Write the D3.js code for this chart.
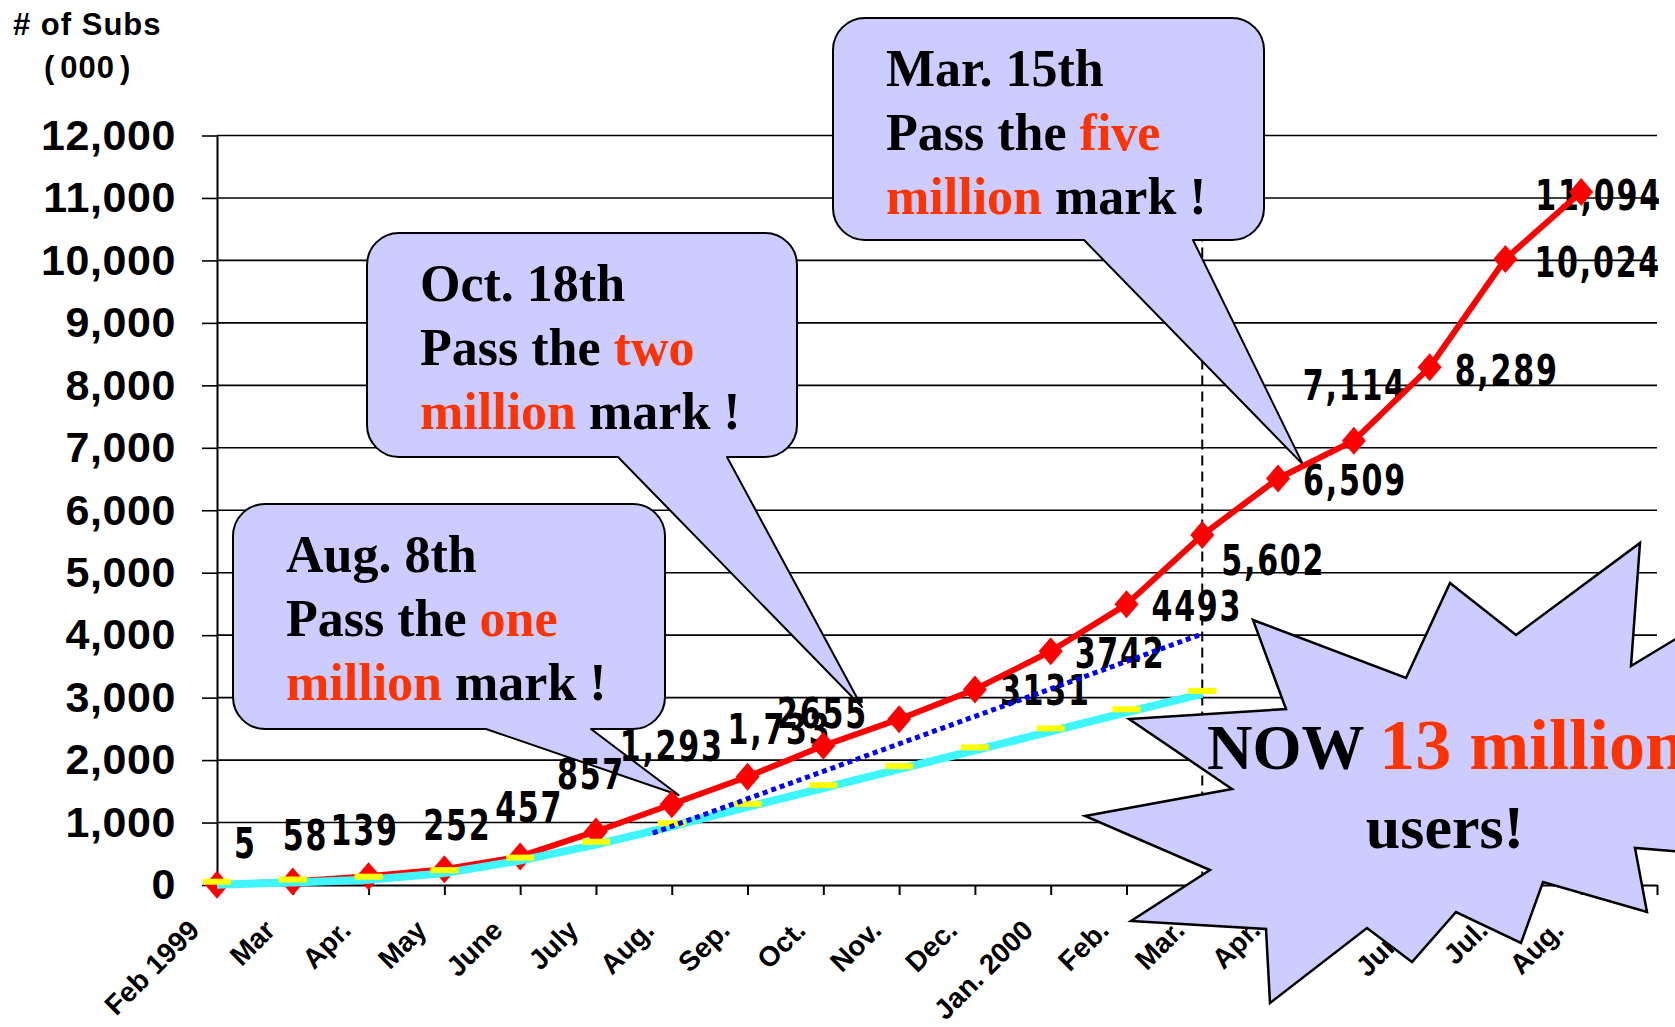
<!DOCTYPE html>
<html lang="en">
<head>
<meta charset="utf-8">
<title>i-mode subscribers</title>
<script src="https://d3js.org/d3.v7.min.js"></script>
<style>
  body { margin: 0; background: #fff; }
  svg { display: block; }
</style>
</head>
<body>
<script>
// month categories on the x axis (one spare tick after the last)
var months = ["Feb 1999", "Mar", "Apr.", "May", "June", "July", "Aug.", "Sep.", "Oct.", "Nov.",
  "Dec.", "Jan. 2000", "Feb.", "Mar.", "Apr.", "May", "June", "Jul.", "Aug."];

// actual subscribers (000)
var subs = [5, 58, 139, 252, 457, 857, 1293, 1733, 2230, 2655, 3131, 3742, 4493, 5602, 6509, 7114, 8289, 10024, 11094];
var subsLabels = ["5", "58", "139", "252", "457", "857", "1,293", "1,733", "", "2655", "3131", "3742", "4493",
  "5,602", "6,509", "7,114", "8,289", "10,024", "11,094"];

// plan line (cyan with yellow markers), Feb 1999 - Mar 2000
var plan = [5, 40, 85, 190, 390, 645, 940, 1250, 1550, 1855, 2155, 2460, 2765, 3060];

// dotted trend line
var trend = [{m: 5.75, v: 830}, {m: 13, v: 4020}];

var yTicks = d3.range(0, 12001, 1000);
var markMonth = 13; // dashed line at Mar. 2000

// label placement (px from its point): where the labels sat on the slide
var labelNudge = [[17, -27], [-10, -31], [-38, -31], [-21, -29], [-25, -34], [-39, -42], [-52, -43], [-20, -33],
  [0, 0], [-122, 9], [25, 16], [24, 17], [25, 17], [19, 40], [25, 17], [-51, -41], [25, 18], [29, 18], [-46, 18]];

var notes = [
  {lines: [[["Aug. 8th", 0]], [["Pass the ", 0], ["one", 1]], [["million", 1], [" mark !", 0]]],
   box: [233, 504, 665, 729], base: [486, 591], tip: {m: 6.09, v: 1440}},
  {lines: [[["Oct. 18th", 0]], [["Pass the ", 0], ["two", 1]], [["million", 1], [" mark !", 0]]],
   box: [367, 233, 797, 457], base: [618, 727], tip: {m: 8.51, v: 2850}},
  {lines: [[["Mar. 15th", 0]], [["Pass the ", 0], ["five", 1]], [["million", 1], [" mark !", 0]]],
   box: [833, 18, 1264, 240], base: [1084, 1193], tip: {m: 14.33, v: 6730}}
];

var burst = [[1253, 620], [1406, 678], [1450, 583], [1516, 635], [1640, 543], [1631, 666], [1740, 600],
  [1700, 740], [1760, 858], [1635, 848], [1647, 912], [1543, 882], [1521, 943], [1456, 912], [1412, 962],
  [1367, 928], [1270, 1003], [1266, 929], [1131, 921], [1210, 870], [1085, 816], [1232, 789], [1129, 719],
  [1286, 709]];

var W = 1675, H = 1027;
var hot = "#ff3300";
var lilac = "#ccccff";

var svg = d3.select("body").append("svg")
  .attr("width", W)
  .attr("height", H)
  .style("background", "#fff");

var x = d3.scaleLinear().domain([0, 19]).range([217, 1657]);
var y = d3.scaleLinear().domain([0, 12000]).range([885, 135.5]);

// grid lines
svg.append("g").selectAll("line")
  .data(yTicks.filter(d => d > 0))
  .enter().append("line")
  .attr("x1", x(0)).attr("x2", x(19))
  .attr("y1", d => y(d)).attr("y2", d => y(d))
  .attr("stroke", "#000")
  .attr("stroke-width", 1.6);

// y axis
var yAxis = svg.append("g")
  .attr("transform", `translate(${x(0)},0)`)
  .call(d3.axisLeft(y).tickValues(yTicks).tickSize(15).tickSizeOuter(0).tickPadding(26).tickFormat(d3.format(",")));
yAxis.select(".domain").attr("stroke", "#000").attr("stroke-width", 2);
yAxis.selectAll(".tick line").attr("stroke", "#000").attr("stroke-width", 1.6);
yAxis.selectAll(".tick text")
  .attr("fill", "#000")
  .attr("font-family", "'Liberation Sans', Arial, sans-serif")
  .attr("font-weight", "bold")
  .attr("font-size", 43)
  .attr("letter-spacing", 0.6);

// x axis
var xAxis = svg.append("g")
  .attr("transform", `translate(0,${y(0)})`)
  .call(d3.axisBottom(x).tickValues(d3.range(0, 20)).tickSize(10).tickSizeOuter(0).tickFormat(""));
xAxis.select(".domain").attr("stroke", "#000").attr("stroke-width", 2);
xAxis.selectAll(".tick line").attr("stroke", "#000").attr("stroke-width", 2);

svg.append("g").selectAll("text")
  .data(months)
  .enter().append("text")
  .attr("transform", (d, i) => `translate(${x(i) - 16},${y(0) + 47}) rotate(-45)`)
  .attr("text-anchor", "end")
  .attr("font-family", "'Liberation Sans', Arial, sans-serif")
  .attr("font-weight", "bold")
  .attr("font-size", 28)
  .text(d => d);

// axis title
var title = svg.append("g")
  .attr("font-family", "'Liberation Sans', Arial, sans-serif")
  .attr("font-weight", "bold")
  .attr("font-size", 31)
  .attr("letter-spacing", 1);
title.append("text").attr("x", 13).attr("y", 35).text("# of Subs");
var unit = title.append("text").attr("x", 44).attr("y", 78);
unit.append("tspan").text("(");
unit.append("tspan").attr("dx", 5).text("000");
unit.append("tspan").attr("dx", 5).text(")");

// dashed marker
svg.append("line")
  .attr("x1", x(markMonth)).attr("x2", x(markMonth))
  .attr("y1", y(12000)).attr("y2", y(0))
  .attr("stroke", "#000")
  .attr("stroke-width", 2)
  .attr("stroke-dasharray", "10,6");

// callouts
function bubble(n) {
  var x0 = n.box[0], y0 = n.box[1], x1 = n.box[2], y1 = n.box[3], r = 32;
  var tx = x(n.tip.m), ty = y(n.tip.v);
  return `M${x0 + r},${y0}H${x1 - r}A${r},${r} 0 0 1 ${x1},${y0 + r}V${y1 - r}A${r},${r} 0 0 1 ${x1 - r},${y1}` +
    `H${n.base[1]}L${tx},${ty}L${n.base[0]},${y1}H${x0 + r}A${r},${r} 0 0 1 ${x0},${y1 - r}V${y0 + r}` +
    `A${r},${r} 0 0 1 ${x0 + r},${y0}Z`;
}

var callouts = svg.append("g").selectAll("g")
  .data(notes)
  .enter().append("g");

callouts.append("path")
  .attr("d", bubble)
  .attr("fill", lilac)
  .attr("stroke", "#000")
  .attr("stroke-width", 2)
  .attr("stroke-linejoin", "round");

callouts.each(function(n) {
  var g = d3.select(this);
  n.lines.forEach(function(line, k) {
    var t = g.append("text")
      .attr("x", n.box[0] + 53)
      .attr("y", n.box[1] + 68 + k * 64)
      .attr("font-family", "'Liberation Serif', 'Times New Roman', serif")
      .attr("font-weight", "bold")
      .attr("font-size", 52)
      .style("white-space", "pre");
    line.forEach(function(seg) {
      t.append("tspan").attr("fill", seg[1] ? hot : "#000").text(seg[0]);
    });
  });
});

// value labels (tall, narrow digits)
svg.append("g").selectAll("text")
  .data(subs)
  .enter().append("text")
  .attr("transform", (d, i) => `translate(${x(i) + labelNudge[i][0]},${y(d) + labelNudge[i][1]}) scale(0.88,1.1)`)
  .attr("font-family", "'DejaVu Sans Condensed', 'DejaVu Sans', sans-serif")
  .attr("font-weight", "bold")
  .attr("font-size", 38)
  .attr("letter-spacing", 2)
  .text((d, i) => subsLabels[i]);

var line = d3.line().x((d, i) => x(i)).y(d => y(d));

// actual subscribers
svg.append("path")
  .datum(subs)
  .attr("d", line)
  .attr("fill", "none")
  .attr("stroke", "#ff0000")
  .attr("stroke-width", 6)
  .attr("stroke-linejoin", "round");

svg.append("g").selectAll("path")
  .data(subs)
  .enter().append("path")
  .attr("d", (d, i) => {
    var cx = x(i), cy = y(d);
    return `M${cx},${cy - 14}L${cx + 12},${cy}L${cx},${cy + 14}L${cx - 12},${cy}Z`;
  })
  .attr("fill", "#ff0000");

// plan
svg.append("path")
  .datum(plan)
  .attr("d", line)
  .attr("fill", "none")
  .attr("stroke", "#3ff6ff")
  .attr("stroke-width", 8);

svg.append("g").selectAll("rect")
  .data(plan)
  .enter().append("rect")
  .attr("x", (d, i) => x(i) - 14)
  .attr("y", d => y(d) - 6)
  .attr("width", 28)
  .attr("height", 6)
  .attr("fill", "#ffff00");

// trend
svg.append("path")
  .datum(trend)
  .attr("d", d3.line().x(d => x(d.m)).y(d => y(d.v)))
  .attr("fill", "none")
  .attr("stroke", "#0000ff")
  .attr("stroke-width", 5)
  .attr("stroke-dasharray", "5,4");

// burst
svg.append("path")
  .datum(burst)
  .attr("d", d3.line().curve(d3.curveLinearClosed))
  .attr("fill", lilac)
  .attr("stroke", "#000")
  .attr("stroke-width", 2.5)
  .attr("stroke-linejoin", "miter");

var now = svg.append("text")
  .attr("x", 1207)
  .attr("y", 769)
  .attr("font-family", "'Liberation Serif', 'Times New Roman', serif")
  .attr("font-weight", "bold")
  .style("white-space", "pre");
now.append("tspan").attr("font-size", 63).text("NOW ");
now.append("tspan").attr("font-size", 72).attr("fill", hot).text("13 million");

svg.append("text")
  .attr("x", 1445)
  .attr("y", 848)
  .attr("text-anchor", "middle")
  .attr("font-family", "'Liberation Serif', 'Times New Roman', serif")
  .attr("font-weight", "bold")
  .attr("font-size", 62)
  .text("users!");
</script>
</body>
</html>
